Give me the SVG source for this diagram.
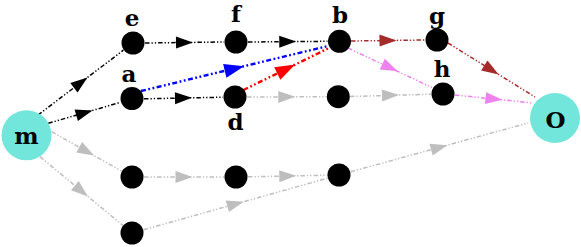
<svg xmlns="http://www.w3.org/2000/svg" width="581" height="247" viewBox="0 0 581 247">
<defs>
<style>
.e{fill:none;stroke-width:1.5;stroke-dasharray:4.5 2 1.3 2 1.3 2}
.k{stroke:#000;marker-mid:url(#ak)}
.g{stroke:#bebebe;marker-mid:url(#ag)}
.br{stroke:#a52a2a;marker-mid:url(#abr)}
.v{stroke:#ee82ee;marker-mid:url(#av)}
.bl{stroke:#0000ff;stroke-width:2.4;stroke-dasharray:5 2.5 1.8 2.5 1.8 2.5;marker-mid:url(#abl)}
.r{stroke:#ff0000;stroke-width:2.4;stroke-dasharray:5 2.5 1.8 2.5 1.8 2.5;marker-mid:url(#ar)}
.dot{fill:#000}
.big{fill:#72e6da}
text{font-family:"DejaVu Serif","Liberation Serif",serif;font-weight:bold;font-size:23px;text-anchor:middle;fill:#000}
</style>
<marker id="ak" markerUnits="userSpaceOnUse" markerWidth="17" markerHeight="12" refX="8.5" refY="6" orient="auto" overflow="visible"><path d="M0,0L17,6L0,12z" fill="#000"/></marker>
<marker id="ag" markerUnits="userSpaceOnUse" markerWidth="17" markerHeight="12" refX="8.5" refY="6" orient="auto" overflow="visible"><path d="M0,0L17,6L0,12z" fill="#bebebe"/></marker>
<marker id="abr" markerUnits="userSpaceOnUse" markerWidth="17" markerHeight="12" refX="8.5" refY="6" orient="auto" overflow="visible"><path d="M0,0L17,6L0,12z" fill="#a52a2a"/></marker>
<marker id="av" markerUnits="userSpaceOnUse" markerWidth="17" markerHeight="12" refX="8.5" refY="6" orient="auto" overflow="visible"><path d="M0,0L17,6L0,12z" fill="#ee82ee"/></marker>
<marker id="abl" markerUnits="userSpaceOnUse" markerWidth="20" markerHeight="14" refX="10" refY="7" orient="auto" overflow="visible"><path d="M0,0L20,7L0,14z" fill="#0000ff"/></marker>
<marker id="ar" markerUnits="userSpaceOnUse" markerWidth="20" markerHeight="14" refX="10" refY="7" orient="auto" overflow="visible"><path d="M0,0L20,7L0,14z" fill="#ff0000"/></marker>
</defs>
<g id="connectors">
<path class="e k" d="M38,115L80.7,82.6L123.4,50.2"/>
<path class="e k" d="M48.3,123.3L84.4,112.8L120.5,102.3"/>
<path class="e k" d="M145,43L184.5,42.5L224,42"/>
<path class="e k" d="M248,42L287.75,41.65L327.5,41.3"/>
<path class="e k" d="M144,98.8L183.5,98L223,97.2"/>
<path class="e g" d="M247,97L286.75,96.85L326.5,96.7"/>
<path class="e g" d="M350,96.5L390.5,95.35L431,94.2"/>
<path class="e g" d="M51.7,131.7L86.6,151.4L121.5,171.1"/>
<path class="e g" d="M40,156.7L81.4,191L122.8,225.3"/>
<path class="e g" d="M144,177L184,177L224,177"/>
<path class="e g" d="M248,176.8L287.75,176L327.5,175.2"/>
<path class="e g" d="M143.5,229.8L235.5,204L327.5,178.2"/>
<path class="e g" d="M350.6,171.8L439.3,147.4L528,123"/>
<path class="e br" d="M351,41L388,40.5L425,40"/>
<path class="e br" d="M448,43L491.5,70L535,97"/>
<path class="e v" d="M348,48L390,67.75L432,87.5"/>
<path class="e v" d="M455,95L494,99L533,103"/>
<path class="e bl" d="M141,91L234.5,68.5L328,46"/>
<path class="e r" d="M243.5,90L286.25,69L329,48"/>
</g>
<g id="m"><circle class="big" cx="26.5" cy="135.3" r="25"/><text x="26.5" y="143.5">m</text></g>
<g id="O"><circle class="big" cx="555" cy="118" r="25"/><text x="555.5" y="127.5">O</text></g>
<g id="e"><circle class="dot" cx="133" cy="43" r="11.5"/><text x="132" y="26">e</text></g>
<g id="f"><circle class="dot" cx="236" cy="42" r="11.5"/><text x="236" y="21.5">f</text></g>
<g id="b"><circle class="dot" cx="339.5" cy="41.3" r="11.5"/><text x="340" y="23.3">b</text></g>
<g id="g"><circle class="dot" cx="437" cy="40" r="11.5"/><text x="437" y="24">g</text></g>
<g id="a"><circle class="dot" cx="132" cy="98.5" r="11.5"/><text x="129" y="81.5">a</text></g>
<g id="d"><circle class="dot" cx="235" cy="97" r="11.5"/><text x="235.5" y="129.5">d</text></g>
<g id="n2"><circle class="dot" cx="338.3" cy="96.7" r="11.5"/></g>
<g id="h"><circle class="dot" cx="443" cy="94" r="11.5"/><text x="442" y="77">h</text></g>
<g id="n3"><circle class="dot" cx="132" cy="177" r="11.5"/></g>
<g id="n4"><circle class="dot" cx="236" cy="177" r="11.5"/></g>
<g id="n5"><circle class="dot" cx="339" cy="175" r="11.5"/></g>
<g id="n6"><circle class="dot" cx="132" cy="233" r="11.5"/></g>
</svg>
